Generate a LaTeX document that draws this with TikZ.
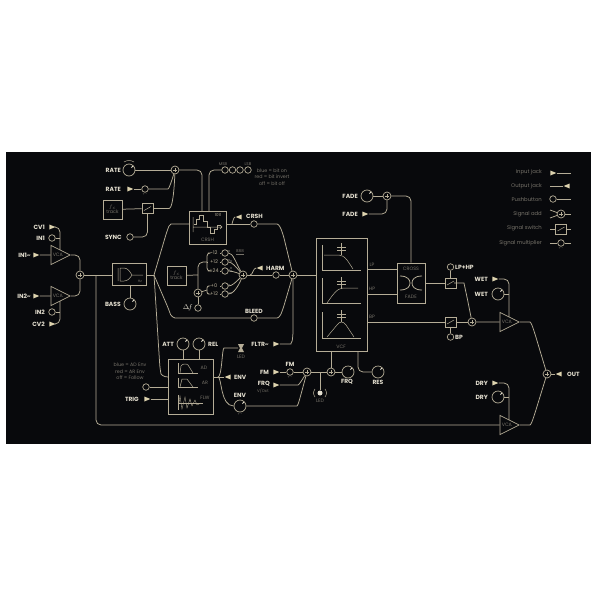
\documentclass[tikz,border=0pt]{standalone}
\usepackage{fontspec}
\setmainfont{Poppins}
\usepackage{amsmath}
\usetikzlibrary{shapes.geometric, positioning}

\definecolor{boardbg}{HTML}{08090C}
\definecolor{wirecol}{HTML}{B5AD97}
\definecolor{inkcol}{HTML}{E4DFD0}
\definecolor{dimcol}{HTML}{77736A}
\definecolor{jackcol}{HTML}{DCD2AE}

\tikzset{
  wire/.style={draw=wirecol, line width=0.75pt, rounded corners=5pt},
  thinwire/.style={draw=wirecol, line width=0.5pt},
  plotline/.style={draw=wirecol, line width=1pt},
  lbl/.style={font=\fontsize{6}{6}\selectfont\bfseries, text=inkcol, inner sep=0pt},
  dimtxt/.style={font=\fontsize{4.8}{6.3}\selectfont, text=dimcol, inner sep=0pt, align=center},
  panel/.style={draw=wirecol, line width=0.8pt, rectangle, inner sep=0pt},
  knob/.style={circle, draw=wirecol, line width=0.7pt, minimum size=12pt, inner sep=0pt,
    path picture={\draw[draw=inkcol, line width=1pt] (path picture bounding box.center) +(2.4pt,2.4pt) -- +(4.4pt,4.4pt);}},
  btn/.style={circle, draw=wirecol, line width=0.7pt, minimum size=6.5pt, inner sep=0pt},
  addn/.style={circle, draw=wirecol, line width=0.7pt, minimum size=8pt, inner sep=0pt,
    path picture={\draw[draw=wirecol, line width=0.5pt] (path picture bounding box.center) +(-2.2pt,0pt) -- +(2.2pt,0pt) +(0pt,-2.2pt) -- +(0pt,2.2pt);}},
  mult/.style={btn, label={[dimtxt, font=\fontsize{3.2}{3.2}\selectfont, yshift=-1.2pt]below:+ -}},
  sw/.style={panel, minimum width=11pt, minimum height=10pt,
    path picture={\draw[draw=wirecol, line width=0.5pt] (path picture bounding box.center) +(-3.5pt,-2pt) -- +(3.5pt,2pt);}},
  jackin/.style={isosceles triangle, isosceles triangle stretches, fill=jackcol, minimum width=5pt, minimum height=6pt, inner sep=0pt},
  jackout/.style={jackin, shape border rotate=180},
  vca/.style={isosceles triangle, isosceles triangle stretches, draw=wirecol, line width=0.7pt, minimum width=19pt, minimum height=19pt,
    inner sep=0pt, anchor=apex, font=\fontsize{4.8}{5}\selectfont, text=dimcol},
  trackbox/.style={panel, minimum width=19pt, minimum height=19pt, font=\fontsize{4.8}{5.5}\selectfont, text=dimcol, align=center},
  harmtxt/.style={dimtxt, fill=boardbg, font=\fontsize{5}{5}\selectfont, text=wirecol, minimum width=12pt, minimum height=6pt}
}

\begin{document}
\begin{tikzpicture}[x=1pt, y=-1pt]

  \useasboundingbox (0,0) rectangle (600,600);
  \fill[white] (0,0) rectangle (600,600);
  \fill[boardbg] (6,152) rectangle (591,444);

  % === Input stage
  \node[lbl, anchor=east] (cvOneTxt) at (45,227) {CV1};
  \node[lbl, anchor=east] (inOneTxt) at (45,238) {IN1};
  \node[lbl, anchor=east] (inOneATxt) at (31,255) {IN1\textasciitilde};
  \node[lbl, anchor=east] (inTwoATxt) at (31,296) {IN2\textasciitilde};
  \node[lbl, anchor=east] (inTwoTxt) at (45,312) {IN2};
  \node[lbl, anchor=east] (cvTwoTxt) at (45,324) {CV2};
  \node[jackin] (cvOneJack) at (51,227) {};
  \node[btn] (inOneBtn) at (52,238) {};
  \node[jackin] (inOneJack) at (35,255) {};
  \node[jackin] (inTwoJack) at (35,296) {};
  \node[btn] (inTwoBtn) at (52,312) {};
  \node[jackin] (cvTwoJack) at (51,324) {};
  \node[vca] (vcaOne) at (71,255) {VCA};
  \node[vca] (vcaTwo) at (71,296) {VCA};
  \node[addn] (inAdd) at (80,275) {};
  \coordinate (vcaOneTop) at (60,250);
  \coordinate (vcaTwoBot) at (60,301);
  \draw[wire] (cvOneJack) -| (vcaOneTop);
  \draw[wire] (inOneBtn) -- (60,238);
  \draw[wire] (inOneJack) -- (vcaOne.west);
  \draw[wire] (inTwoJack) -- (vcaTwo.west);
  \draw[wire] (inTwoBtn) -- (60,312);
  \draw[wire] (cvTwoJack) -| (vcaTwoBot);
  \draw[wire] (vcaOne.apex) -| (inAdd);
  \draw[wire] (vcaTwo.apex) -| (inAdd);

  % === Filter box and bass
  \node[panel, minimum width=34pt, minimum height=22pt] (fltBox) at (129,274) {};
  \node[dimtxt, font=\fontsize{3.5}{4}\selectfont] (hzTxt) at (140,281) {Hz};
  \draw[thinwire] (118,268) -- (118,281) (120,268) -- (124,268) .. controls (128,268) and (130,272) .. (132,275) .. controls (130,278) and (128,281) .. (124,281) -- (120,281) -- cycle (132,275) -- (143,275);
  \coordinate (dryJ) at (96,275);
  \coordinate (fltJ) at (154,275);
  \node[knob] (bassK) at (130,304) {};
  \node[lbl, anchor=east] (bassTxt) at (121,304) {BASS};
  \draw[wire] (inAdd) -- (fltBox.west |- inAdd);
  \draw[wire] (fltBox.east |- inAdd) -- (fltJ);
  \draw[wire] (fltBox.south -| bassK) -- (bassK);

  % === Rate section
  \node[lbl, anchor=east] (rateTxtA) at (121,170) {RATE};
  \node[lbl, anchor=east] (rateTxtB) at (121,189) {RATE};
  \node[lbl, anchor=east] (syncTxt) at (122,237) {SYNC};
  \node[knob] (rateK) at (129,170) {};
  \draw[thinwire] (124,162) .. controls (127,160) and (131,160) .. (134,162);
  \node[jackin] (rateJack) at (129,189) {};
  \node[mult] (rateM) at (145,189) {};
  \node[addn] (rateAdd) at (175,170) {};
  \node[trackbox] (trkRate) at (112.5,209.5) {$f_c$\\track};
  \node[sw] (rateSw) at (147.5,208.5) {};
  \node[btn] (syncBtn) at (130,237) {};
  \draw[wire] (rateK) -- (rateAdd);
  \draw[wire] (rateJack) -- (rateM);
  \draw[wire] (rateM) -- (163,189) .. controls (169,189) and (172,180) .. (rateAdd);
  \draw[wire] (trkRate) -- (rateSw);
  \draw[wire] (rateSw) -- (164,208.5) .. controls (172,208.5) and (174,195) .. (rateAdd);
  \draw[wire] (syncBtn) -| (rateSw);

  % === Crush box and bit buttons
  \node[panel, minimum width=37pt, minimum height=33pt] (crshBox) at (207.5,227.5) {};
  \node[dimtxt] (crshName) at (207.5,239.5) {CRSH};
  \node[dimtxt, font=\fontsize{4}{4}\selectfont, text=wirecol] (crshBits) at (218,215.5) {1011};
  \draw[thinwire] (193,217) -- (193,232) (193,227) -- (222,227) (220,225) -- (222,227) -- (220,229);
  \draw[thinwire] (194,224) -- (196,224) -- (196,219) -- (199,219) -- (199,215) -- (203,215) -- (203,221) -- (207,221) -- (207,227) -- (210,227) -- (210,233) -- (214,233) -- (214,229) -- (217,229) -- (217,225) -- (221,225);
  \coordinate (crshTopA) at (202,211);
  \coordinate (crshTopB) at (209,211);
  \coordinate (crshIn) at (189,224);
  \coordinate (crshOut) at (226,224);
  \foreach \nm/\x in {bitA/225, bitB/232.5, bitC/240, bitD/248}
    \node[btn] (\nm) at (\x,170) {};
  \node[dimtxt, font=\fontsize{4}{4}\selectfont] (msbTxt) at (223,164) {MSB};
  \node[dimtxt, font=\fontsize{4}{4}\selectfont] (lsbTxt) at (248,164) {LSB};
  \node[dimtxt] (bitNote) at (272,177) {blue = bit on\\red = bit invert\\off = bit off};
  \draw[wire] (rateAdd) -| (crshTopA);
  \draw[wire] (crshTopB) |- (bitA);

  \draw[wire] (fltJ) -- (167,231) .. controls (169,226) and (171,224) .. (176,224) -- (crshIn);
  \node[btn] (crshBtn) at (254,224) {};
  \node[jackout] (crshJack) at (240,217) {};
  \node[lbl, anchor=west] (crshTxt) at (246,216) {CRSH};
  \draw[wire] (crshOut) -- (crshBtn);
  \draw[wire] (232,224) .. controls (233,220) and (234,217) .. (crshJack);

  % === Harmonic buttons
  \node[trackbox] (trkHrm) at (176.5,275.5) {$f_c$\\track};
  \node[addn] (dfAdd) at (198,293) {};
  \node[btn] (dfBtn) at (198,308) {};
  \node[lbl, anchor=east, font=\fontsize{7}{7}\selectfont] (dfTxt) at (193,308) {$\Delta\!f$};
  \coordinate (hrmJ) at (198,275);
  \coordinate (hrmBr) at (207,262);
  \coordinate (dfBr) at (207,290);
  \foreach \nm/\y/\t in {A/253/-12, B/262/+12, C/271/+24, D/286/+0, E/294/+12} {
    \node[harmtxt] (hrm\nm) at (214,\y) {\t};
    \node[btn] (btn\nm) at (225,\y) {};
    \draw[wire] (hrm\nm) -- (btn\nm);
  }
  \node[addn] (hrmAdd) at (243,275) {};
  \draw[wire] (trkHrm) -- (hrmJ);
  \draw[wire] (dfBtn) -- (dfAdd);
  \draw[wire] (dfAdd) |- (hrmBr);
  \draw[wire, rounded corners=3pt] (hrmA.west) -| (hrmBr);
  \draw[wire, rounded corners=3pt] (hrmC.west) -| (hrmBr);
  \draw[wire] (hrmBr) -- (hrmB.west);
  \draw[wire] (dfAdd) -- (dfBr);
  \draw[wire, rounded corners=2pt] (hrmD.west) -| (dfBr);
  \draw[wire, rounded corners=2pt] (hrmE.west) -| (dfBr);
  \draw[wire] (btnA) .. controls (233,253) and (236,263) .. (hrmAdd);
  \draw[wire] (btnB) .. controls (232,262) and (236,267) .. (hrmAdd);
  \draw[wire] (btnC) .. controls (231,271) and (235,272) .. (hrmAdd);
  \draw[wire] (btnD) .. controls (232,286) and (236,282) .. (hrmAdd);
  \draw[wire] (btnE) .. controls (233,294) and (238,287) .. (hrmAdd);
  \foreach \px/\py in {229/251, 229/260, 231/261, 229/270, 231/268, 231/271, 229/285, 229/293, 231/293}
    \fill[inkcol] (\px,\py) circle (0.7);
  \node[dimtxt, font=\fontsize{4}{4}\selectfont] (codeTxt) at (240,252) {\underline{888}};

  % === Harm, bleed and filter mix
  \node[addn] (mixAdd) at (293,275) {};
  \node[jackout] (harmJack) at (261,268) {};
  \node[lbl, anchor=west] (harmTxt) at (266,268) {HARM};
  \node[btn] (harmBtn) at (276,275) {};
  \node[btn] (bleedBtn) at (254,318) {};
  \node[lbl] (bleedTxt) at (254,311) {BLEED};
  \node[lbl, anchor=east] (fltrTxt) at (269,344) {FLTR\textasciitilde};
  \node[jackin] (fltrJack) at (275,344) {};
  \draw[wire] (hrmAdd) -- (harmBtn);
  \draw[wire] (250,275) .. controls (253,275) and (253,268) .. (harmJack);
  \draw[wire] (harmBtn) -- (mixAdd);
  \draw[wire] (crshBtn) -- (272,224) .. controls (279,224) and (281,229) .. (283,234) -- (mixAdd);
  \draw[wire] (fltJ) -- (169,310) .. controls (171,316) and (174,318) .. (180,318) -- (bleedBtn);
  \draw[wire] (bleedBtn) -- (272,318) .. controls (279,318) and (281,314) .. (283,309) -- (mixAdd);
  \draw[wire] (fltrJack) -- (286,344) .. controls (290,344) and (292,342) .. (293,336) -- (mixAdd);

  % === Envelope box
  \node[panel, minimum width=45pt, minimum height=55pt] (envBox) at (190.5,386.5) {};
  \node[knob] (attK) at (183,344) {};
  \node[knob] (relK) at (199,344) {};
  \node[lbl, anchor=east] (attTxt) at (174,344) {ATT};
  \node[lbl, anchor=west] (relTxt) at (208,344) {REL};
  \node[btn] (modeBtn) at (146,387) {};
  \node[jackin] (trigJack) at (146,399) {};
  \node[lbl, anchor=east] (trigTxt) at (139,399) {TRIG};
  \node[dimtxt] (modeNote) at (130,371.5) {blue = AD Env\\red = AR Env\\off = Follow};
  \coordinate (envIn) at (168,377);
  \coordinate (envOutJ) at (218,377);
  \draw[wire] (fltJ) -- (160,369) .. controls (161,374) and (163,377) .. (envIn);
  \draw[wire] (attK) -- (attK |- envBox.north);
  \draw[wire] (relK) -- (relK |- envBox.north);
  \draw[wire] (modeBtn) -- (envBox.west |- modeBtn);
  \draw[wire] (trigJack) -- (envBox.west |- trigJack);
  \node[dimtxt] (adTxt) at (204,368) {AD};
  \node[dimtxt] (arTxt) at (205,383) {AR};
  \node[dimtxt] (flwTxt) at (205,398) {FLW};
  \draw[thinwire] (178,363) |- (198,373);
  \draw[thinwire] (180,373) -- (181,366) .. controls (182,364) and (186,363) .. (188,365) -- (193,373);
  \draw[thinwire] (178,378) |- (198,387);
  \draw[thinwire] (180,387) -- (182,379) -- (187,379) -- (193,387);
  \draw[thinwire] (178,395) -- (178,410) (178,403) -- (203,403);
  \draw[thinwire, line width=0.35pt] (179,403) -- (180,396) -- (182,409) -- (185,397) -- (187,408) -- (190,399) -- (192,406) -- (195,400) -- (197,405) -- (201,403);

  % === Envelope out, led and modulation
  \node[jackout] (envJack) at (229,377) {};
  \node[lbl, anchor=west] (envTxtA) at (234,377) {ENV};
  \coordinate (ledIn) at (238,348);
  \fill[wirecol] (238,344) -- (244,344) -- (242,348) -- (244,352) -- (238,352) -- (240,348) -- cycle;
  \node[dimtxt] (ledTxtA) at (241,357) {LED};
  \node[knob] (envK) at (240,406) {};
  \node[lbl] (envTxtB) at (240,395) {ENV};
  \node[dimtxt, font=\fontsize{3.2}{3.2}\selectfont] (envSign) at (240,414.5) {+ -};
  \node[lbl, anchor=east] (fmTxtA) at (269,372) {FM};
  \node[lbl] (fmTxtB) at (290,364) {FM};
  \node[jackin] (fmJack) at (275,372) {};
  \node[mult] (fmM) at (290,372) {};
  \node[lbl, anchor=east] (frqTxtA) at (270,384) {FRQ};
  \node[dimtxt, font=\fontsize{4}{4}\selectfont] (vOct) at (263,391) {V/Oct};
  \node[jackin] (frqJack) at (275,385) {};
  \node[addn] (modAdd) at (307,372) {};
  \node[addn] (vcfAdd) at (331,372) {};
  \node[knob] (frqK) at (348,372) {};
  \node[knob] (resK) at (378,372) {};
  \node[lbl] (frqTxtB) at (347,382) {FRQ};
  \node[lbl] (resTxt) at (378,382) {RES};
  \node[circle, fill=inkcol, minimum size=5pt, inner sep=0pt] (ledCore) at (320,393) {};
  \node[dimtxt] (ledTxtB) at (320,401) {LED};
  \draw[thinwire] (315,389) .. controls (313,392) and (313,394) .. (315,397) (325,389) .. controls (327,392) and (327,394) .. (325,397);
  \coordinate (ledJ) at (320,372);
  \coordinate (vcfIn) at (316,275);
  \coordinate (vcfFm) at (331,351);
  \coordinate (vcfRes) at (358,351);
  \draw[wire] (envBox.east |- envOutJ) -- (envJack);
  \draw[wire] (envOutJ) .. controls (222,377) and (222,348) .. (229,348) -- (ledIn);
  \draw[wire] (envOutJ) .. controls (222,377) and (220,406) .. (envK);
  \draw[wire] (envK) -- (292,406) .. controls (298,406) and (300,398) .. (modAdd);
  \draw[wire] (fmJack) -- (fmM);
  \draw[wire] (fmM) -- (modAdd);
  \draw[wire] (frqJack) -- (293,385) .. controls (299,385) and (302,380) .. (modAdd);
  \draw[wire] (modAdd) -- (vcfAdd);
  \draw[wire] (ledJ) -- (ledCore);
  \draw[wire] (frqK) -- (vcfAdd);
  \draw[wire] (vcfAdd) -- (vcfFm);
  \draw[wire] (vcfRes) |- (resK);
  \draw[wire] (mixAdd) -- (vcfIn);

  % === VCF box
  \node[panel, minimum width=51pt, minimum height=113pt] (vcfBox) at (341.5,294.5) {};
  \node[dimtxt] (vcfTxt) at (341,347) {VCF};
  \foreach \ya/\yb in {245/270, 278/303, 312/338}
    \draw[plotline] (322,\ya) |- (361,\yb);
  \foreach \cy in {243, 277, 310} {
    \draw[thinwire] (341.5,\cy) -- (341.5,\cy+12);
    \draw[thinwire] (337,\cy+4) -- (346,\cy+4) (337,\cy+7) -- (346,\cy+7);
  }
  \draw[thinwire] (324,255) -- (339,255) .. controls (345,255) and (349,263) .. (353,269);
  \draw[thinwire] (327,303) .. controls (332,296) and (337,288) .. (343,288) -- (358,288);
  \draw[thinwire] (327,337) -- (337,325) .. controls (340,321) and (343,321) .. (346,325) -- (354,337);
  \node[dimtxt] (lpTxt) at (372,265) {LP};
  \node[dimtxt] (hpTxt) at (372,289) {HP};
  \node[dimtxt] (bpTxt) at (372,317) {BP};

  % === Cross fade
  \node[panel, minimum width=28pt, minimum height=40pt] (xfdBox) at (411,283) {};
  \node[dimtxt] (xfdTxtA) at (411,269) {CROSS};
  \node[dimtxt] (xfdTxtB) at (411,297) {FADE};
  \draw[draw=wirecol, line width=0.8pt] (400,276) .. controls (408,276) and (410,280) .. (410,283) .. controls (410,286) and (408,290) .. (400,290);
  \draw[draw=wirecol, line width=0.8pt] (422,276) .. controls (414,276) and (412,280) .. (412,283) .. controls (412,286) and (414,290) .. (422,290);
  \node[knob] (fadeK) at (367,196) {};
  \node[jackin] (fadeJack) at (364,214) {};
  \node[addn] (fadeAdd) at (387,196) {};
  \node[lbl, anchor=east] (fadeTxtA) at (358,196) {FADE};
  \node[lbl, anchor=east] (fadeTxtB) at (358,214) {FADE};
  \coordinate (vcfLP) at (367,269);
  \coordinate (vcfHP) at (367,294);
  \coordinate (vcfBP) at (367,322);
  \coordinate (xfdLP) at (397,269);
  \coordinate (xfdHP) at (397,294);
  \draw[wire] (vcfLP) -- (xfdLP);
  \draw[wire] (vcfHP) -- (xfdHP);
  \draw[wire] (fadeK) -- (fadeAdd);
  \draw[wire] (fadeJack) -| (fadeAdd);
  \draw[wire] (fadeAdd) -| (xfdBox);

  % === Output switches and VCAs
  \node[sw] (lpSw) at (450.5,283) {};
  \node[sw] (bpSw) at (450.5,322) {};
  \node[btn] (lpBtn) at (450.5,267) {};
  \node[btn] (bpBtn) at (450.5,337) {};
  \node[lbl, anchor=west] (lpTxt2) at (455,267) {LP+HP};
  \node[lbl, anchor=west] (bpTxt2) at (455,337) {BP};
  \node[addn] (wetAdd) at (472,322) {};
  \node[vca] (vcaWet) at (520,322) {VCA};
  \node[vca] (vcaDry) at (520,425) {VCA};
  \node[lbl, anchor=east] (wetTxtA) at (488,279) {WET};
  \node[lbl, anchor=east] (wetTxtB) at (488,294) {WET};
  \node[lbl, anchor=east] (dryTxtA) at (488,383) {DRY};
  \node[lbl, anchor=east] (dryTxtB) at (488,397) {DRY};
  \node[jackin] (wetJack) at (494,279) {};
  \node[knob] (wetK) at (498,294) {};
  \node[jackin] (dryJack) at (494,383) {};
  \node[knob] (dryK) at (498,397) {};
  \node[addn] (outAdd) at (547,374) {};
  \node[jackout] (outJack) at (560,374) {};
  \node[lbl, anchor=west] (outTxt) at (567,374) {OUT};
  \coordinate (vcaWetTop) at (509,317);
  \coordinate (vcaDryTop) at (509,420);
  \draw[wire] (xfdBox) -- (lpSw);
  \draw[wire] (vcfBP) -- (bpSw);
  \draw[wire] (lpBtn) -- (lpSw);
  \draw[wire] (bpBtn) -- (bpSw);
  \draw[wire] (bpSw) -- (wetAdd);
  \draw[wire] (lpSw) -- (459,283) .. controls (464,283) and (465,288) .. (467,297) -- (wetAdd);
  \draw[wire] (wetAdd) -- (vcaWet.west);
  \draw[wire] (wetJack) -| (vcaWetTop);
  \draw[wire] (wetK) -- (509,294);
  \draw[wire] (dryJack) -| (vcaDryTop);
  \draw[wire] (dryK) -- (509,397);
  \draw[wire] (dryJ) |- (vcaDry.west);
  \draw[wire] (vcaWet.apex) -- (525,322) .. controls (531,322) and (533,328) .. (535,334) -- (outAdd);
  \draw[wire] (vcaDry.apex) -- (525,425) .. controls (531,425) and (533,419) .. (535,413) -- (outAdd);
  \draw[wire] (outAdd) -- (outJack);

  % === Legend
  \foreach \y/\t in {172/Input jack, 186/Output jack, 200/Pushbutton, 214/Signal add, 228/Signal switch, 243/Signal multiplier}
    \node[dimtxt, anchor=east, font=\fontsize{5.3}{6}\selectfont] (lg\y) at (542,\y) {\t};
  \node[jackin] (lgInJack) at (552,173) {};
  \node[jackout] (lgOutJack) at (568,186) {};
  \node[btn] (lgBtn) at (553,199) {};
  \node[addn] (lgAdd) at (561,214) {};
  \node[sw] (lgSw) at (561,229) {};
  \node[mult] (lgM) at (561,243) {};
  \draw[wire] (lgInJack) -- (571,173);
  \draw[wire] (550,186) -- (lgOutJack);
  \draw[wire] (lgBtn) -- (571,199);
  \draw[wire] (550,210) -- (lgAdd);
  \draw[wire] (550,218) -- (lgAdd);
  \draw[wire] (lgAdd) -- (571,214);
  \draw[wire] (550,229) -- (lgSw);
  \draw[wire] (lgSw) -- (571,229);
  \draw[wire] (550,243) -- (lgM);
  \draw[wire] (lgM) -- (571,243);

\end{tikzpicture}
\end{document}
